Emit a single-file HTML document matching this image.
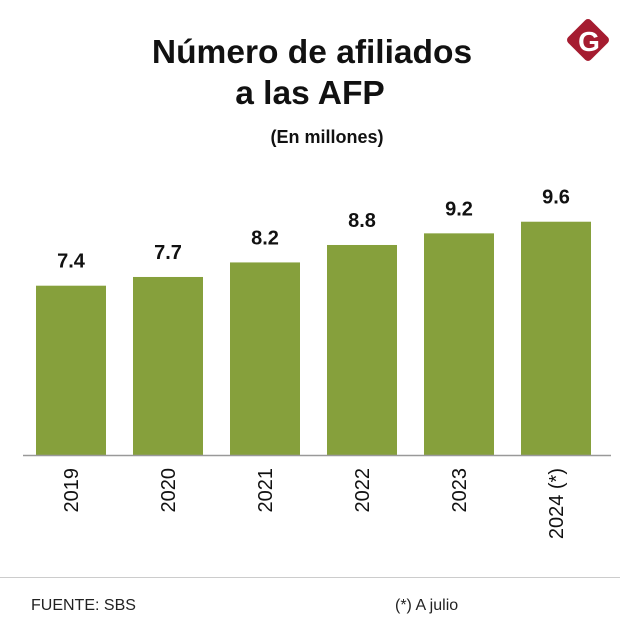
<!DOCTYPE html>
<html><head><meta charset="utf-8"><style>
body{margin:0;background:#fff;width:620px;height:629px;overflow:hidden;font-family:"Liberation Sans",sans-serif;}
</style></head><body>
<svg width="620" height="629" viewBox="0 0 620 629">
<text x="312" y="63" text-anchor="middle" font-size="33.5" font-weight="bold" fill="#111">Número de afiliados</text>
<text x="310" y="104" text-anchor="middle" font-size="33.5" font-weight="bold" fill="#111">a las AFP</text>
<text x="327" y="143" text-anchor="middle" font-size="18" font-weight="bold" fill="#111">(En millones)</text>
<g>
<rect x="572" y="24" width="32" height="32" rx="4" transform="rotate(45 588 40)" fill="#a51c30"/>
<text x="589" y="51" text-anchor="middle" font-size="28" font-weight="bold" fill="#fff">G</text>
</g>
<g id="bars"></g>
<line x1="23" y1="455.5" x2="611" y2="455.5" stroke="#999" stroke-width="1.5"/>
<line x1="0" y1="577.5" x2="620" y2="577.5" stroke="#ccc" stroke-width="1"/>
<text x="31" y="610" font-size="16" fill="#222">FUENTE: SBS</text>
<text x="395" y="610" font-size="16" fill="#222">(*) A julio</text>
</svg>
<script>
const categories=["2019","2020","2021","2022","2023","2024 (*)"];
const values=[7.4,7.7,8.2,8.8,9.2,9.6];
const valueLabels=["7.4","7.7","8.2","8.8","9.2","9.6"];
const yMin=1.578, pxPerUnit=29.08;
function y(v){return 455-(v-yMin)*pxPerUnit;}
function x(i){return 36+i*97;}
const bw=70, NS="http://www.w3.org/2000/svg", g=document.getElementById('bars');
categories.forEach((c,i)=>{
 const r=document.createElementNS(NS,'rect');
 r.setAttribute('x',x(i));r.setAttribute('y',y(values[i]));r.setAttribute('width',bw);r.setAttribute('height',455-y(values[i]));r.setAttribute('fill','#86a03c');
 
 
 g.appendChild(r);
 const t=document.createElementNS(NS,'text');
 t.setAttribute('x',x(i)+bw/2);t.setAttribute('y',y(values[i])-18);t.setAttribute('text-anchor','middle');t.setAttribute('font-size','20');t.setAttribute('font-weight','bold');t.setAttribute('fill','#111');
 t.textContent=valueLabels[i];
 
 
 g.appendChild(t);
 const l=document.createElementNS(NS,'text');
 const cx=x(i)+bw/2+7;
 l.setAttribute('x',cx);l.setAttribute('y',468);l.setAttribute('text-anchor','end');l.setAttribute('font-size','20');l.setAttribute('fill','#111');
 l.setAttribute('transform','rotate(-90 '+cx+' 468)');
 l.textContent=c;
 
 
 g.appendChild(l);
});
</script>
</body></html>
